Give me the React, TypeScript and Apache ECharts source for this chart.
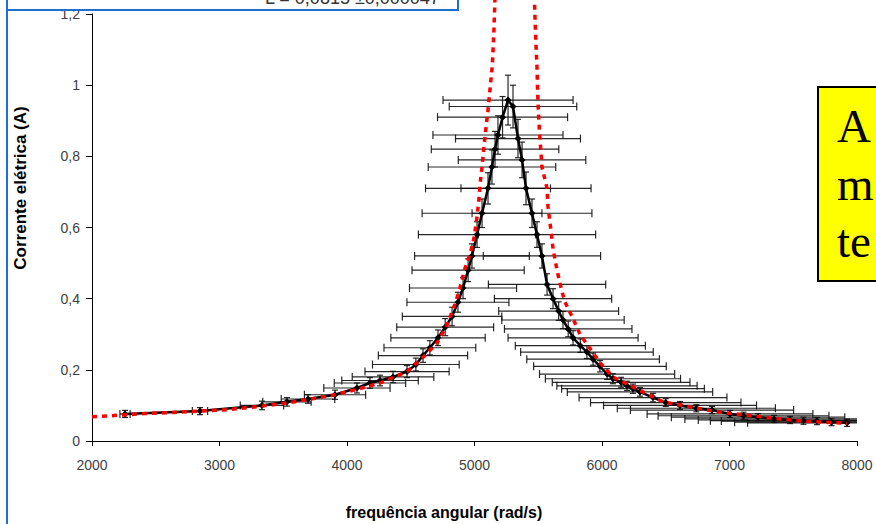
import React, { useEffect, useRef } from "react";
import * as echarts from "echarts";

// Measured points (black): angular frequency, current, and their error half-widths
const blackOmega = [2259, 2847, 3333, 3529, 3694, 3906, 4078, 4180, 4259, 4361, 4471, 4540, 4596, 4650, 4714, 4770, 4824, 4870, 4910, 4950, 4980, 5020, 5059, 5106, 5137, 5161, 5184, 5220, 5263, 5302, 5341, 5373, 5404, 5451, 5490, 5529, 5569, 5616, 5660, 5694, 5735, 5773, 5830, 5882, 5930, 5984, 6040, 6086, 6150, 6196, 6243, 6298, 6400, 6500, 6612, 6740, 6863, 7004, 7110, 7224, 7350, 7475, 7580, 7686, 7800, 7922];
const blackCurrent = [0.076, 0.084, 0.100, 0.110, 0.118, 0.130, 0.149, 0.163, 0.170, 0.180, 0.195, 0.215, 0.240, 0.262, 0.290, 0.320, 0.350, 0.390, 0.430, 0.480, 0.520, 0.580, 0.640, 0.710, 0.770, 0.820, 0.860, 0.910, 0.958, 0.940, 0.850, 0.790, 0.710, 0.640, 0.580, 0.520, 0.440, 0.400, 0.365, 0.340, 0.315, 0.290, 0.268, 0.250, 0.230, 0.210, 0.188, 0.175, 0.165, 0.155, 0.147, 0.138, 0.122, 0.108, 0.100, 0.092, 0.087, 0.076, 0.071, 0.067, 0.062, 0.059, 0.057, 0.056, 0.053, 0.051];
const blackOmegaErr = [40, 60, 170, 190, 210, 240, 260, 280, 300, 320, 330, 340, 350, 360, 370, 380, 390, 400, 420, 440, 450, 460, 470, 490, 500, 500, 510, 510, 510, 500, 490, 500, 510, 470, 460, 460, 460, 460, 470, 480, 500, 510, 510, 520, 520, 520, 530, 530, 540, 550, 560, 570, 580, 590, 600, 620, 640, 650, 670, 680, 700, 720, 730, 750, 760, 780];
const blackCurrentErr = [0.010, 0.010, 0.012, 0.012, 0.012, 0.013, 0.014, 0.015, 0.015, 0.016, 0.017, 0.018, 0.019, 0.020, 0.022, 0.024, 0.026, 0.028, 0.030, 0.032, 0.034, 0.036, 0.040, 0.044, 0.048, 0.050, 0.054, 0.058, 0.070, 0.060, 0.054, 0.050, 0.046, 0.040, 0.036, 0.034, 0.030, 0.028, 0.026, 0.024, 0.022, 0.020, 0.019, 0.018, 0.017, 0.016, 0.015, 0.014, 0.014, 0.013, 0.013, 0.012, 0.012, 0.011, 0.011, 0.010, 0.010, 0.010, 0.010, 0.010, 0.010, 0.010, 0.010, 0.010, 0.010, 0.010];

// Theoretical curve (red dotted)
const redOmega = [2000, 2100, 2416, 2612, 3059, 3333, 3529, 3700, 3906, 4078, 4259, 4471, 4596, 4706, 4784, 4847, 4886, 4925, 4965, 4996, 5020, 5035, 5043, 5059, 5075, 5090, 5106, 5122, 5140, 5152, 5162, 5310, 5468, 5478, 5490, 5498, 5506, 5529, 5569, 5576, 5600, 5616, 5647, 5686, 5710, 5765, 5827, 5906, 5984, 6086, 6243, 6478, 6902, 7396, 7608, 7922];
const redCurrent = [0.068, 0.070, 0.077, 0.080, 0.088, 0.098, 0.107, 0.117, 0.130, 0.145, 0.163, 0.195, 0.235, 0.275, 0.325, 0.385, 0.430, 0.485, 0.525, 0.570, 0.630, 0.680, 0.720, 0.770, 0.830, 0.880, 0.930, 0.990, 1.056, 1.150, 1.260, 2.000, 1.260, 1.150, 1.050, 0.950, 0.890, 0.770, 0.710, 0.660, 0.590, 0.540, 0.480, 0.420, 0.390, 0.350, 0.300, 0.260, 0.220, 0.180, 0.152, 0.110, 0.082, 0.062, 0.055, 0.050];

const xTicks = { min: 2000, max: 8000, step: 1000 };
const yTicks = { min: 0, max: 1.2, step: 0.2 };

const xTitle = "frequência angular (rad/s)";
const yTitle = "Corrente elétrica (A)";
const boxText = "L = 0,0815 ±0,000047";
const noteLines = ["A", "m", "te"];

export default function App() {
  const ref = useRef<HTMLDivElement>(null);
  useEffect(() => {
    if (!ref.current) return;
    const chart = echarts.init(ref.current, undefined, { renderer: "svg" });
    const blackData = blackOmega.map((w, i) => [w, blackCurrent[i]]);
    const errData = blackOmega.map((w, i) => [w, blackCurrent[i], blackOmegaErr[i], blackCurrentErr[i]]);
    const redData = redOmega.map((w, i) => [w, redCurrent[i]]);
    const font = '"Liberation Sans", Arial, sans-serif';
    const blue = "#1f6fd1";

    chart.setOption({
      animation: false,
      backgroundColor: "#ffffff",
      grid: { left: 92, right: 19, top: 14, bottom: 83 },
      xAxis: {
        type: "value",
        min: xTicks.min,
        max: xTicks.max,
        interval: xTicks.step,
        splitLine: { show: false },
        axisLine: { lineStyle: { color: "#000", width: 1 } },
        axisTick: { show: true, length: 5, lineStyle: { color: "#000" } },
        axisLabel: {
          color: "#404040",
          fontSize: 14,
          fontFamily: font,
          margin: 17,
          formatter: (v: number) => String(Math.round(v)),
        },
      },
      yAxis: {
        type: "value",
        min: yTicks.min,
        max: yTicks.max,
        interval: yTicks.step,
        splitLine: { show: false },
        axisLine: { show: true, lineStyle: { color: "#000", width: 1 } },
        axisTick: { show: true, length: 6, lineStyle: { color: "#000" } },
        axisLabel: {
          color: "#404040",
          fontSize: 14,
          fontFamily: font,
          margin: 12,
          formatter: (v: number) => String(+v.toFixed(1)).replace(".", ","),
        },
      },
      series: [
        {
          type: "custom",
          name: "erros",
          clip: true,
          z: 1,
          encode: { x: 0, y: 1 },
          data: errData,
          renderItem: (params: any, api: any) => {
            const x = api.value(0);
            const y = api.value(1);
            const xe = api.value(2);
            const ye = api.value(3);
            const l = api.coord([x - xe, y]);
            const r = api.coord([x + xe, y]);
            const t = api.coord([x, y + ye]);
            const b = api.coord([x, y - ye]);
            const cap = 4;
            const st = { stroke: "#111", lineWidth: 1.2, opacity: 0.9 };
            return {
              type: "group",
              children: [
                { type: "line", shape: { x1: l[0], y1: l[1], x2: r[0], y2: r[1] }, style: st },
                { type: "line", shape: { x1: l[0], y1: l[1] - cap, x2: l[0], y2: l[1] + cap }, style: st },
                { type: "line", shape: { x1: r[0], y1: r[1] - cap, x2: r[0], y2: r[1] + cap }, style: st },
                { type: "line", shape: { x1: t[0], y1: t[1], x2: b[0], y2: b[1] }, style: st },
                { type: "line", shape: { x1: t[0] - 3, y1: t[1], x2: t[0] + 3, y2: t[1] }, style: st },
                { type: "line", shape: { x1: b[0] - 3, y1: b[1], x2: b[0] + 3, y2: b[1] }, style: st },
              ],
            };
          },
        },
        {
          type: "line",
          name: "experimental",
          z: 2,
          data: blackData,
          symbol: "diamond",
          symbolSize: 7,
          itemStyle: { color: "#000" },
          lineStyle: { color: "#000", width: 2.5 },
        },
        {
          type: "line",
          name: "teórica",
          z: 3,
          clip: false,
          data: redData,
          showSymbol: false,
          lineStyle: { color: "#ff0000", width: 3.5, type: [5, 5] },
        },
      ],
      graphic: [
        {
          type: "line",
          z: 10,
          shape: { x1: 7, y1: 0, x2: 7, y2: 524 },
          style: { stroke: blue, lineWidth: 2 },
        },
        {
          type: "rect",
          z: 10,
          shape: { x: 7, y: -20, width: 451, height: 30 },
          style: { fill: "#ffffff", stroke: blue, lineWidth: 2 },
        },
        {
          type: "text",
          z: 11,
          style: { text: boxText, x: 265, y: 7, font: `18px ${font}`, fill: "#333", textAlign: "left", textVerticalAlign: "bottom" },
        },
        {
          type: "text",
          z: 11,
          style: { text: yTitle, x: 0, y: 0, font: `bold 17px ${font}`, fill: "#000", textAlign: "center", textVerticalAlign: "middle" },
          x: 20,
          y: 188,
          rotation: Math.PI / 2,
        },
        {
          type: "text",
          z: 11,
          style: { text: xTitle, x: 444, y: 512, font: `bold 16px ${font}`, fill: "#000", textAlign: "center", textVerticalAlign: "middle" },
        },
        {
          type: "rect",
          z: 10,
          shape: { x: 818, y: 87, width: 70, height: 194 },
          style: { fill: "#ffff00", stroke: "#000", lineWidth: 2 },
        },
        ...noteLines.map((s, i) => ({
          type: "text",
          z: 11,
          style: {
            text: s,
            x: 837,
            y: 126 + i * 57.5,
            font: `47px "Liberation Serif", "Times New Roman", serif`,
            fill: "#000",
            textAlign: "left",
            textVerticalAlign: "middle",
          },
        })),
      ],
    });
    return () => chart.dispose();
  }, []);
  return <div ref={ref} style={{ width: 876, height: 524, position: "fixed", left: 0, top: 0 }} />;
}
